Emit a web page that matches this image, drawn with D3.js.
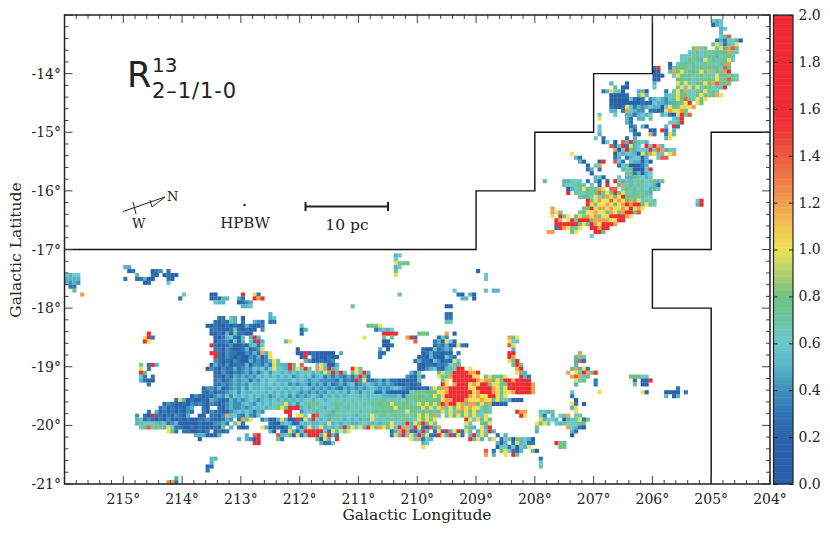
<!DOCTYPE html>
<html>
<head>
<meta charset="utf-8">
<script src="https://cdn.jsdelivr.net/npm/d3@7"></script>
<style>
  body { margin: 0; background: #fff; }
  text { font-family: "DejaVu Serif", serif; fill: #222; }
</style>
</head>
<body>
<div id="chart"></div>
<script>
// map cells, estimated by eye: [row from top, first column, codes]
// one code per cell, base 36 in tenths (5 = 0.5, a = 1.0, g = 1.6), space = no data, | is only a ruler
let northCloud = [
  [1,165,"656"],[2,165,"256"],[3,167,"56"],[4,167,"5"],[5,167,"68e"],[6,166,"3536752"],[7,165,"8a6386a"],
  [8,160,"8c68"],[8,166,"7a5ce8"],[9,159,"6786878888c67"],[10,157,"66678678756787"],[11,157,"668785a68778a6"],
  [12,154,"2 6787866877687c"],[13,150,"3g"],[13,154,"36888687878886e8"],[14,150,"22"],[14,154,"8c8a6887a8c687cg"],
  [15,150,"222"],[15,155,"6a878678676a88686"],[16,150,"22"],[16,156,"8878687887a78e86"],[17,139,"5"],[17,143,"2"],
  [17,150,"5"],[17,156,"a8a7688a8ce878"],[18,140,"8 22"],[18,150,"6"],[18,156,"7a6a8a688677g"],
  [19,137,"35a672"],[19,146,"582"],[19,153,"3 8a5c6688a786"],[20,139,"22223"],[20,146,"7a5"],[20,153,"567a88668a878ca"],
  [21,139,"222226323 4565468a8e87a8a"],[22,139,"2222222232265545587ag a8"],[23,139,"3223a6354565526a88aaac"],
  [24,139,"55 3c6544 3322acaac8"],[25,136,"6"],[25,140,"6"],[25,143,"5535656"],[25,152,"5632ag8e"],[26,136,"a"],
  [26,143,"53 56 "],[26,147,"5 8"],[26,155,"65g"],[27,143,"53"],[27,154,"668g"],[28,136,"6"],[28,144,"34"],[28,147,"52"],
  [28,153,"5 g3"],[29,136,"6"],[29,144,"52"],[29,149,"22"],[29,152,"g3 5"],[30,136,"5"],[30,145,"32"],[30,149,"c3"],
  [30,153,"3a8"],[31,135,"6 3"],[31,143,"3 5"],[31,153,"5a"],[32,137,"26"],[32,140,"2 e5g5765"],[33,139,"e36g3a56 g6gc5"],
  [34,140,"c26g85666g6ec576"],[35,129,"a"],[35,140,"2756652a5ca77 ac"],[36,130,"53"],[36,140,"35"],[36,143,"356625"],
  [36,151,"6ee"],[37,131,"52"],[37,136,"2g"],[37,140,"e63"],[37,144,"655252"],[38,133,"2 6c"],[38,141,"36822235"],
  [39,133,"35"],[39,136,"3"],[39,142,"5682226g"],[40,134,"2"],[40,143,"8835256"],[41,135,"562"],[41,141,"6 5587656"],
  [42,122,"8"],[42,127,"55766 3"],[42,135,"52 2 g6"],[42,142,"56867867858"],[43,127,"866786"],[43,134,"6 3 g"],
  [43,141,"8c686876652"],[44,128,"2568a878ca"],[44,139,"ee 6868676586"],[45,128,"g"],[45,130,"866878e8a8g8a7687785"],
  [46,131,"7886a68ca8ag8887866"],[47,133,"g8acaaeaca8c8a7768"],[47,161,"6g"],[48,133,"ga8aaca8acgcgg8a86"],
  [48,161,"5g"],[49,124,"c"],[49,132,"88gaccacaacagaca"],[50,124,"ca8"],[50,131,"78aacaa8ca8cgg8e"],[51,124,"a g8a"],
  [51,130,"8a7cac8aaggggca"],[52,125,"gc ag"],[52,130,"8ggg8ccccaagg"],[53,125,"gggggg8a8gcagggc"],
  [54,125,"3gca87a"],[54,134,"ggcgg"],[55,123,"cc"],[55,129,"8a"],[55,135,"gg8"],[56,134,"6"]
];

// ruler: cols 18-19 | 20-29 | 30-39 | ... | 110-119
let mainBody = [
  [77,18,"  |          |         3|3 75 2    "],
  [78,18,"  |          |        32|3375 3  54|3"],
  [79,18,"  |          |      2232|2323225322|3"],
  [80,18,"  |          |       332|223732322 |4"],
  [81,18,"  |          |       223|25273322  |"],
  [82,18,"  |          |        22|356327 5g5|"],
  [83,18,"  |          |        23|342625 63g|5"],
  [84,18,"  |          |       g32|2342232573|6"],
  [85,18,"  |          |        33|2432235234|a        2"],
  [86,18,"  |          |       gg3|2433224353|c5a      2|2g2322222 |5"],
  [87,18,"  |          |        g3|2432322435|24a       |2g 3222322"],
  [88,18,"  |          |        43|2324322534|345a7     | 54223234 "],
  [89,18,"  |          |       253|2423335244|353a755g8 |e   6a6225"],
  [90,18,"  |          |      2432|4335345465|646a665g8a|6g7 ca7g56|   ga7"],
  [91,18,"  |          |        32|4324345353|5646656565|676565a7g8|g7 8a6g5  |        53|7    8a67g|gggccg"],
  [92,18,"  |          |        33|2435454546|5656565645|6564563535|43535g83  |       432|73   a78cg|ggggaa 8a8|78a"],
  [93,18,"  |          |        34|2345455354|6566555565|6545544443|5343g4a334|5353322222|7     8a g|gggggcacc8|a8ggcgggg"],
  [94,18,"  |          |        33|4345454655|6565656454|5535453534|5356345654|5454322322|3     ga c|gggacagg8a|a88ggggggc"],
  [95,18,"  |          |     24435|2345464655|6556565656|5654545454|3545454565|4545654322|2327a8ccgg|gggaaggggc|a8aggggggc"],
  [96,18,"  |          |     32423|3456465565|6565656565|4545454656|5646546563|3532222268|87888aacgg|ggggacgggc|a8aacggggc"],
  [97,18,"  |          |  24323245|4646565656|5745656464|5456546565|6566756566|6555563878|8878a8aggg|gggcacaagg|a6a"],
  [98,18,"  |        3a|5232232543|2354545654|5656565756|5665665667|6767676767|7867676878|878788accg|ggcaaacaa8|a865222"],
  [99,18,"  |     24322|3243432432|3454456546|565677a564|6788866678|7676767787|878a878876|a8a8a8gcgg|ac8cc8a8c2|222"],
  [100,18,"  |    342323|245  32  3|2454454565|65768a7ggg|5657675668|6776767667|7878a88788|8a8a6ac7a8|acacaa686"],
  [101,18,"  | 3 5232323|243  32433|2245656535|4     gg  |4667566757|6767686778|7878777a88|687878a6a6|c8a8a8686 |     gcc"],
  [102,18,"4 |32g3323243|25  22 332|4c76436436|       g a|a6 ge67587|67675676a6|7867878678|a8a8c6 8a8|a8a8a66a  |      ga"],
  [103,18,"56|3432324223|2322334322|354 3c8a  |35225a522g|3a5g656567|65656575a6|7676867876|a8a7a     |  ga6a8a8"],
  [104,18,"58|6668573452|2222322244|53 7a3    |  32256523|6565565a56|5675576756|568a668g5a|8g8a6     |  a6  85a"],
  [105,18," 6|8e7885a633|2232322232|8 5 323   |a5223236 5|35a56a5656|5g7a6a5ga8|ca8a6g6c5g|a32e5c    |  685 a5g"],
  [106,18,"  |      a83 |3322323 23|23        |  52 32a53|6ggggg63a8|a6a       |   35cgc32|5g5 3a3g5a|g3a8 5a6g5"],
  [107,18,"  |          |   5552225|      5 eg|    e5682a|36ggg5ag53|          |   3a5g6a5|g5a33ga5g3|a3 5g6a8"],
  [108,18,"  |          |    2     |    5 542g|    83    |    82a5 g|          |        a6|c365      |   g5a5 6a"],
  [109,18,"  |          |          |        gg|          |     5336 |          |          | 56"],
  [110,18,"  |          |          |          |          |          |          |          | a"]
];

// upper lobe over the ridge and the loose clumps
let smallClumps = [
  [81,97,"c 2"],[82,95,"374"],[83,94,"352a62"],[84,94,"343522"],[84,100,"a32"],[85,91,"32273454"],[86,91,"23533232 3"],
  [87,90,"2325322643"],[88,89,"3533264232a6"],[89,90,"22332434672"],[89,100,"8"],[90,90,"2245632586ca"],[90,100,"gg a"],
  [66,0,"6566"],[67,0,"5555"],[68,0,"5454"],[69,1,"33"],[70,2,"8"],[71,4,"c"],
  [64,15,"55"],[65,16,"23"],[66,18,"8"],[67,15,"3"],[67,18,"3352"],[68,20,"23"],[65,22,"234"],[66,22,"32"],[67,22,"2"],
  [65,26,"3"],[66,25,"2322"],[67,26,"32"],[68,26,"6"],[71,30,"7"],[72,29,"3 "],[71,37,"22"],[72,37,"23355"],[73,38,"655"],
  [71,45,"g"],[72,44,"53"],[73,44,"2345"],[74,45,"556"],[71,48,"a3"],[72,48,"gcg"],
  [76,52,"5"],[77,52,"56"],[78,52,"33"],[79,60,"6"],[80,60,"25"],[81,60,"3"],[83,56,"8a"],
  [81,21,"g"],[82,20,"ag3"],[83,20,"ga"],[89,19,"7 3g5"],[90,19,"a 3"],[91,19,"g8"],[92,19,"63 3"],[93,19,"5322"],[94,21,"3"],
  [61,84,"56"],[62,84,"6"],[63,84,"a788"],[64,84,"56"],[65,84,"8"],[66,84,"a"],[71,85,"7"],[74,73,"7"],
  [79,77,"888a"],[80,79,"35"],[80,81,"656"],[81,81,"gggg"],[82,76,"a"],[82,81,"8 8"],[82,87,"cg3"],[81,90,"888"],[83,89,"e"],
  [83,81,"22"],[84,81,"223"],[85,80,"5 2"],[86,80,"33"],[87,80,"3"],
  [65,105,"2"],[66,107,"6"],[67,107,"6"],[70,99,"6"],[70,107,"7"],[70,109,"55"],[71,100,"32 52"],[72,101,"55 2"],
  [74,97,"22"],[76,97,"33"],[77,97,"33"],[78,97,"77"],
  [82,113,"c8a"],[83,113,"a66"],[84,113,"ea"],[85,114,"5"],[86,113,"gg"],[87,113,"gc"],[88,113,"a8g"],[89,114,"8g8"],[90,115,"cg"],[91,115,"a85"],[92,116,"g53"],
  [86,131,"c"],[87,130,"867"],[88,130,"5e3"],[89,130,"5"],[90,129,"8c5a3"],[91,128,"c a7gc8g"],[92,129,"cec68"],[93,130,"a68"],[94,130,"5"],
  [93,135,"3"],[94,135,"3"],[96,136,"a"],[96,129,"6"],[97,129,"3"],[98,130,"2"],[99,129,"a3"],[100,130,"a"],
  [92,144,"88866"],[93,145,"3 22g"],[94,145,"8 22"],[96,147,"a2"],[95,156,"3"],[96,153,"2222 3"],[97,153,"5 25"],
  [101,121,"8658"],[102,121,"63 5 68c"],[103,121,"a5665 2578878"],[104,121,"8a6 65866688"],[101,130,"a"],[102,130,"67"],
  [103,131,"a3"],[104,132,"8"],[105,128,"c6532"],[106,129,"53"],[107,129,"2"],[100,129,"5"],[99,132,"2"],
  [104,120,"a"],[105,120,"8"],[106,120,"5"],[108,119,"2"],
  [107,110,"3 5"],[108,111,"3682"],[108,115,"8865"],[109,110,"525 3a56"],[109,118,"33"],[110,110,"26636265a"],
  [111,107,"e"],[111,109,"3 8a6325"],[111,119,"82"],[112,107,"c 5"],[112,112,"a g8"],
  [109,125,"g"],[109,126,"88"],[110,126,"88"],[113,121,"3"],[114,121,"6"],[115,121,"7"],
  [119,26,"cc3"],[118,28,"5"],[113,37,"55"],[114,37,"5"],[115,36,"23"],[116,36,"3"]
];

// colour scale
let barStops = [0, 0.2, 0.3, 0.4, 0.5, 0.6, 0.7, 0.8, 0.9, 1.0, 1.1, 1.2, 1.3, 1.4, 1.5, 1.6, 2.0];
let barColors = ["#2a5ea8","#2b62aa","#2f74b3","#3f8fbb","#58b2c7","#6bc8cc","#6cc6a4","#70c283","#b0d070","#ece055","#f0c252","#ef9f4d","#ef7a48","#ee5a40","#ee3a38","#ee2a33","#ee2a33"];
let barTicks = [0, 0.2, 0.4, 0.6, 0.8, 1.0, 1.2, 1.4, 1.6, 1.8, 2.0];

let lonTicks = [215, 214, 213, 212, 211, 210, 209, 208, 207, 206, 205, 204];
let latTicks = [-14, -15, -16, -17, -18, -19, -20, -21];

// survey footprint, in degrees
let outlineNorth = [[216,-17],[209,-17],[209,-16],[208,-16],[208,-15],[207,-15],[207,-14],[206,-14],[206,-13]];
let outlineSouth = [[204,-15],[205,-15],[205,-17],[206,-17],[206,-18],[205,-18],[205,-21]];

let width = 830, height = 534;
let margin = {top: 15, left: 64.5, bottom: 50, right: 60};

let x = d3.scaleLinear().domain([216, 204]).range([margin.left, width - margin.right]);
let y = d3.scaleLinear().domain([-13, -21]).range([margin.top, height - margin.bottom]);
let color = d3.scaleLinear().domain(barStops).range(barColors);

let svg = d3.select("#chart").append("svg")
    .attr("width", width)
    .attr("height", height);

// the reference is a slightly soft scan
let soft = svg.append("defs").append("filter").attr("id", "soft");
soft.append("feGaussianBlur").attr("stdDeviation", 0.45);

// expand the row strings into cells
let cells = [];
[northCloud, mainBody, smallClumps].forEach((list) => {
  list.forEach((seg) => {
    seg[2].replace(/\|/g, "").split("").forEach((ch, i) => {
      if (ch !== " ") cells.push({row: seg[0], col: seg[1] + i, v: parseInt(ch, 36) / 10});
    });
  });
});

let step = 1 / 15;
svg.append("g")
    .attr("filter", "url(#soft)")
  .selectAll("rect")
    .data(cells)
  .enter().append("rect")
    .attr("x", (d) => x(216 - d.col * step))
    .attr("y", (d) => y(-13 - d.row * step))
    .attr("width", x(216 - step) - x(216) + 0.2)
    .attr("height", y(-13 - step) - y(-13) + 0.2)
    .attr("fill", (d) => color(d.v));

let line = d3.line().x((d) => x(d[0])).y((d) => y(d[1]));
[outlineNorth, outlineSouth].forEach((o) => {
  svg.append("path")
      .attr("d", line(o))
      .attr("fill", "none")
      .attr("stroke", "#111")
      .attr("stroke-width", 1.4);
});

// frame and ticks
let x0 = x.range()[0], x1 = x.range()[1], y0 = y.range()[0], y1 = y.range()[1];
let lonMinor = d3.range(0, 61).map((i) => 216 - i * 0.2);
let latMinor = d3.range(0, 41).map((i) => -13 - i * 0.2);

function isMajor(v) { return Math.abs(v - Math.round(v)) < 1e-6; }

let tickG = svg.append("g").attr("stroke", "#444").attr("stroke-width", 1);
lonMinor.forEach((v) => {
  let len = isMajor(v) ? 8 : 4;
  tickG.append("line").attr("x1", x(v)).attr("x2", x(v)).attr("y1", y1).attr("y2", y1 - len);
  tickG.append("line").attr("x1", x(v)).attr("x2", x(v)).attr("y1", y0).attr("y2", y0 + len);
});
latMinor.forEach((v) => {
  let len = isMajor(v) ? 8 : 4;
  tickG.append("line").attr("y1", y(v)).attr("y2", y(v)).attr("x1", x0).attr("x2", x0 + len);
  tickG.append("line").attr("y1", y(v)).attr("y2", y(v)).attr("x1", x1).attr("x2", x1 - len);
});

svg.append("rect")
    .attr("x", x0).attr("y", y0)
    .attr("width", x1 - x0).attr("height", y1 - y0)
    .attr("fill", "none").attr("stroke", "#222").attr("stroke-width", 1.5);

svg.selectAll(".lon")
    .data(lonTicks)
  .enter().append("text")
    .attr("class", "lon")
    .attr("x", (d) => x(d))
    .attr("y", 504)
    .attr("text-anchor", "middle")
    .attr("font-size", 14)
    .text((d) => d + "°");

svg.selectAll(".lat")
    .data(latTicks)
  .enter().append("text")
    .attr("class", "lat")
    .attr("x", 61)
    .attr("y", (d) => y(d) + 5)
    .attr("text-anchor", "end")
    .attr("font-size", 14)
    .text((d) => d + "°");

svg.append("text")
    .attr("x", 417).attr("y", 520)
    .attr("text-anchor", "middle")
    .attr("font-size", 15.5)
    .text("Galactic Longitude");

svg.append("text")
    .attr("transform", "translate(21, 250) rotate(-90)")
    .attr("text-anchor", "middle")
    .attr("font-size", 15.5)
    .text("Galactic Latitude");

// colour bar
let barY = d3.scaleLinear().domain([0, 2]).range([y1, y0]);
let barX = 773.5, barW = 19.5;
svg.append("g").selectAll("rect")
    .data(d3.range(0, 200))
  .enter().append("rect")
    .attr("x", barX)
    .attr("y", (d) => barY((d + 1) / 100))
    .attr("width", barW)
    .attr("height", barY(0) - barY(0.01) + 0.5)
    .attr("fill", (d) => color((d + 0.5) / 100));

svg.append("rect")
    .attr("x", barX).attr("y", y0)
    .attr("width", barW).attr("height", y1 - y0)
    .attr("fill", "none").attr("stroke", "#222").attr("stroke-width", 1.2);

let barAxis = d3.axisRight(barY)
    .tickValues(barTicks)
    .tickSize(0)
    .tickPadding(25)
    .tickFormat(d3.format(".1f"));

let barG = svg.append("g")
    .attr("transform", `translate(${barX}, 0)`)
    .call(barAxis);
barG.select(".domain").remove();
barG.selectAll("text").attr("font-size", 14).style("font-family", '"DejaVu Serif", serif').attr("fill", "#222");
barG.selectAll(".tick").each((d, i, o) => {
  let t = d3.select(o[i]);
  t.append("line").attr("x1", 0).attr("x2", 4).attr("stroke", "#222");
  t.append("line").attr("x1", barW - 4).attr("x2", barW).attr("stroke", "#222");
});

// annotations
let sans = '"DejaVu Sans", sans-serif';
svg.append("text").attr("x", 127).attr("y", 87).attr("font-size", 35).style("font-family", sans).text("R");
svg.append("text").attr("x", 152).attr("y", 72).attr("font-size", 20).style("font-family", sans).text("13");
svg.append("text").attr("x", 152).attr("y", 98).attr("font-size", 21).attr("textLength", 84).style("font-family", sans).text("2–1/1-0");

svg.append("line").attr("x1", 123).attr("y1", 211.5).attr("x2", 165).attr("y2", 197).attr("stroke", "#222");
svg.append("line").attr("x1", 133).attr("y1", 202).attr("x2", 136).attr("y2", 214).attr("stroke", "#222");
svg.append("path").attr("d", "M150,200L152,207L165,197").attr("fill", "none").attr("stroke", "#222");
svg.append("text").attr("x", 167).attr("y", 201).attr("font-size", 13).text("N");
svg.append("text").attr("x", 132).attr("y", 228).attr("font-size", 13).text("W");

svg.append("circle").attr("cx", 244.5).attr("cy", 205).attr("r", 1.2).attr("fill", "#111");
svg.append("text").attr("x", 245).attr("y", 228).attr("text-anchor", "middle").attr("font-size", 15).text("HPBW");

svg.append("path").attr("d", "M305.5,202V211M305.5,206.5H388M388,202V211").attr("fill", "none").attr("stroke", "#222").attr("stroke-width", 2);
svg.append("text").attr("x", 347).attr("y", 230).attr("text-anchor", "middle").attr("font-size", 15.5).text("10 pc");
</script>
</body>
</html>
